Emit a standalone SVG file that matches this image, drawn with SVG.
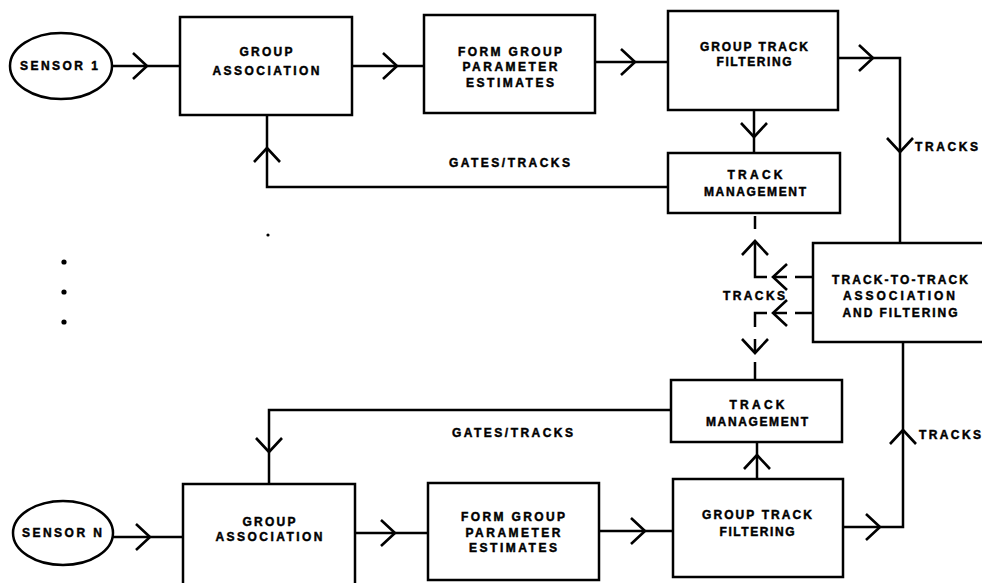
<svg xmlns="http://www.w3.org/2000/svg" xmlns:xlink="http://www.w3.org/1999/xlink" width="982" height="583" viewBox="0 0 982 583">
<style>
.bx{fill:#fff;stroke:#000;stroke-width:2.5}
.ln{fill:none;stroke:#000;stroke-width:2.5;stroke-linecap:butt;stroke-linejoin:miter}
.t{font-family:"Liberation Sans",Arial,sans-serif;font-weight:bold;font-size:12px;fill:#000;stroke:#000;stroke-width:0.45;text-anchor:middle}
.l{font-family:"Liberation Sans",Arial,sans-serif;font-weight:bold;font-size:12px;fill:#000;stroke:#000;stroke-width:0.45}
</style>
<defs>
<path id="chev" d="M-14,-13 L0,0 L-14,13" fill="none" stroke="#000" stroke-width="2.6"/>
</defs>
<rect width="982" height="583" fill="#fff"/>

<g id="connectors">
  <!-- top row -->
  <path class="ln" d="M112,66 H180"/>
  <use xlink:href="#chev" transform="translate(147,66)"/>
  <path class="ln" d="M352,66 H424"/>
  <use xlink:href="#chev" transform="translate(397,66)"/>
  <path class="ln" d="M595,62 H668"/>
  <use xlink:href="#chev" transform="translate(635,62)"/>
  <path class="ln" d="M838,58 H900 V243"/>
  <use xlink:href="#chev" transform="translate(873,58)"/>
  <use xlink:href="#chev" transform="translate(900,152) rotate(90)"/>
  <path class="ln" d="M754,110 V153"/>
  <use xlink:href="#chev" transform="translate(754,137) rotate(90)"/>
  <path class="ln" d="M668,187 H267 V115"/>
  <use xlink:href="#chev" transform="translate(267,148) rotate(-90)"/>

  <!-- dashed track exchange -->
  <path class="ln" d="M755,216 V229"/>
  <path class="ln" d="M755,241 V277 H767"/>
  <use xlink:href="#chev" transform="translate(755,241) rotate(-90)"/>
  <path class="ln" d="M773,277 H787 M795,277 H813"/>
  <use xlink:href="#chev" transform="translate(773,277) rotate(180)"/>
  <path class="ln" d="M795,313 H813 M773,313 H787"/>
  <use xlink:href="#chev" transform="translate(773,313) rotate(180)"/>
  <path class="ln" d="M767,313 H755 V327"/>
  <path class="ln" d="M755,339 V353"/>
  <use xlink:href="#chev" transform="translate(755,353) rotate(90)"/>
  <path class="ln" d="M755,362 V380"/>

  <!-- bottom row -->
  <path class="ln" d="M843,527 H903 V342"/>
  <use xlink:href="#chev" transform="translate(880,527)"/>
  <use xlink:href="#chev" transform="translate(903,430) rotate(-90)"/>
  <path class="ln" d="M757,479 V442"/>
  <use xlink:href="#chev" transform="translate(757,455) rotate(-90)"/>
  <path class="ln" d="M671,410 H269 V484"/>
  <use xlink:href="#chev" transform="translate(269,452) rotate(90)"/>
  <path class="ln" d="M113,537 H183"/>
  <use xlink:href="#chev" transform="translate(150,537)"/>
  <path class="ln" d="M355,533 H428"/>
  <use xlink:href="#chev" transform="translate(395,533)"/>
  <path class="ln" d="M599,531 H673"/>
  <use xlink:href="#chev" transform="translate(645,531)"/>
</g>

<g id="sensor1">
  <ellipse class="bx" cx="61" cy="66" rx="51" ry="33"/>
  <text class="t" x="59" y="70.3" textLength="78" lengthAdjust="spacing">SENSOR  1</text>
</g>
<g id="group-association-1">
  <rect class="bx" x="180" y="17" width="172" height="98"/>
  <text class="t" x="266" y="56.3" textLength="53" lengthAdjust="spacing">GROUP</text>
  <text class="t" x="266" y="75.3" textLength="107" lengthAdjust="spacing">ASSOCIATION</text>
</g>
<g id="form-group-1">
  <rect class="bx" x="424" y="15" width="171" height="98"/>
  <text class="t" x="510" y="56.3" textLength="104" lengthAdjust="spacing">FORM  GROUP</text>
  <text class="t" x="510" y="71.3" textLength="95" lengthAdjust="spacing">PARAMETER</text>
  <text class="t" x="510" y="87.3" textLength="88" lengthAdjust="spacing">ESTIMATES</text>
</g>
<g id="group-track-filtering-1">
  <rect class="bx" x="668" y="11" width="170" height="99"/>
  <text class="t" x="754" y="51.3" textLength="108" lengthAdjust="spacing">GROUP  TRACK</text>
  <text class="t" x="754" y="66.3" textLength="75" lengthAdjust="spacing">FILTERING</text>
</g>
<g id="track-management-1">
  <rect class="bx" x="668" y="153" width="172" height="60"/>
  <text class="t" x="755" y="179.3" textLength="55" lengthAdjust="spacing">TRACK</text>
  <text class="t" x="755" y="196.3" textLength="102" lengthAdjust="spacing">MANAGEMENT</text>
</g>
<g id="labels-1">
  <text class="l" x="449" y="167.3" textLength="121" lengthAdjust="spacing">GATES/TRACKS</text>
  <text class="l" x="915" y="151.3" textLength="63" lengthAdjust="spacing">TRACKS</text>
</g>

<g id="ellipsis">
  <circle cx="64" cy="262" r="2.6"/>
  <circle cx="64" cy="292" r="2.6"/>
  <circle cx="64" cy="322" r="2.6"/>
  <circle cx="268" cy="235" r="1.6"/>
</g>

<g id="track-to-track">
  <rect class="bx" x="813" y="243" width="180" height="99"/>
  <text class="t" x="900" y="284.3" textLength="136" lengthAdjust="spacing">TRACK-TO-TRACK</text>
  <text class="t" x="899" y="300.3" textLength="112" lengthAdjust="spacing">ASSOCIATION</text>
  <text class="t" x="900" y="317.3" textLength="115" lengthAdjust="spacing">AND  FILTERING</text>
  <text class="l" x="723" y="300.3" textLength="62" lengthAdjust="spacing">TRACKS</text>
</g>

<g id="track-management-n">
  <rect class="bx" x="671" y="380" width="171" height="62"/>
  <text class="t" x="757" y="409.3" textLength="55" lengthAdjust="spacing">TRACK</text>
  <text class="t" x="757" y="426.3" textLength="102" lengthAdjust="spacing">MANAGEMENT</text>
</g>
<g id="labels-n">
  <text class="l" x="452" y="437.3" textLength="121" lengthAdjust="spacing">GATES/TRACKS</text>
  <text class="l" x="919" y="439.3" textLength="62" lengthAdjust="spacing">TRACKS</text>
</g>
<g id="sensorN">
  <ellipse class="bx" cx="63" cy="533" rx="50" ry="32"/>
  <text class="t" x="62" y="537.3" textLength="80" lengthAdjust="spacing">SENSOR  N</text>
</g>
<g id="group-association-n">
  <rect class="bx" x="183" y="484" width="172" height="110"/>
  <text class="t" x="269" y="526.3" textLength="53" lengthAdjust="spacing">GROUP</text>
  <text class="t" x="269" y="541.3" textLength="107" lengthAdjust="spacing">ASSOCIATION</text>
</g>
<g id="form-group-n">
  <rect class="bx" x="428" y="483" width="171" height="97"/>
  <text class="t" x="513" y="521.3" textLength="104" lengthAdjust="spacing">FORM  GROUP</text>
  <text class="t" x="513" y="537.3" textLength="95" lengthAdjust="spacing">PARAMETER</text>
  <text class="t" x="513" y="552.3" textLength="88" lengthAdjust="spacing">ESTIMATES</text>
</g>
<g id="group-track-filtering-n">
  <rect class="bx" x="673" y="479" width="170" height="98"/>
  <text class="t" x="757" y="519.3" textLength="110" lengthAdjust="spacing">GROUP  TRACK</text>
  <text class="t" x="757" y="536.3" textLength="75" lengthAdjust="spacing">FILTERING</text>
</g>
</svg>
